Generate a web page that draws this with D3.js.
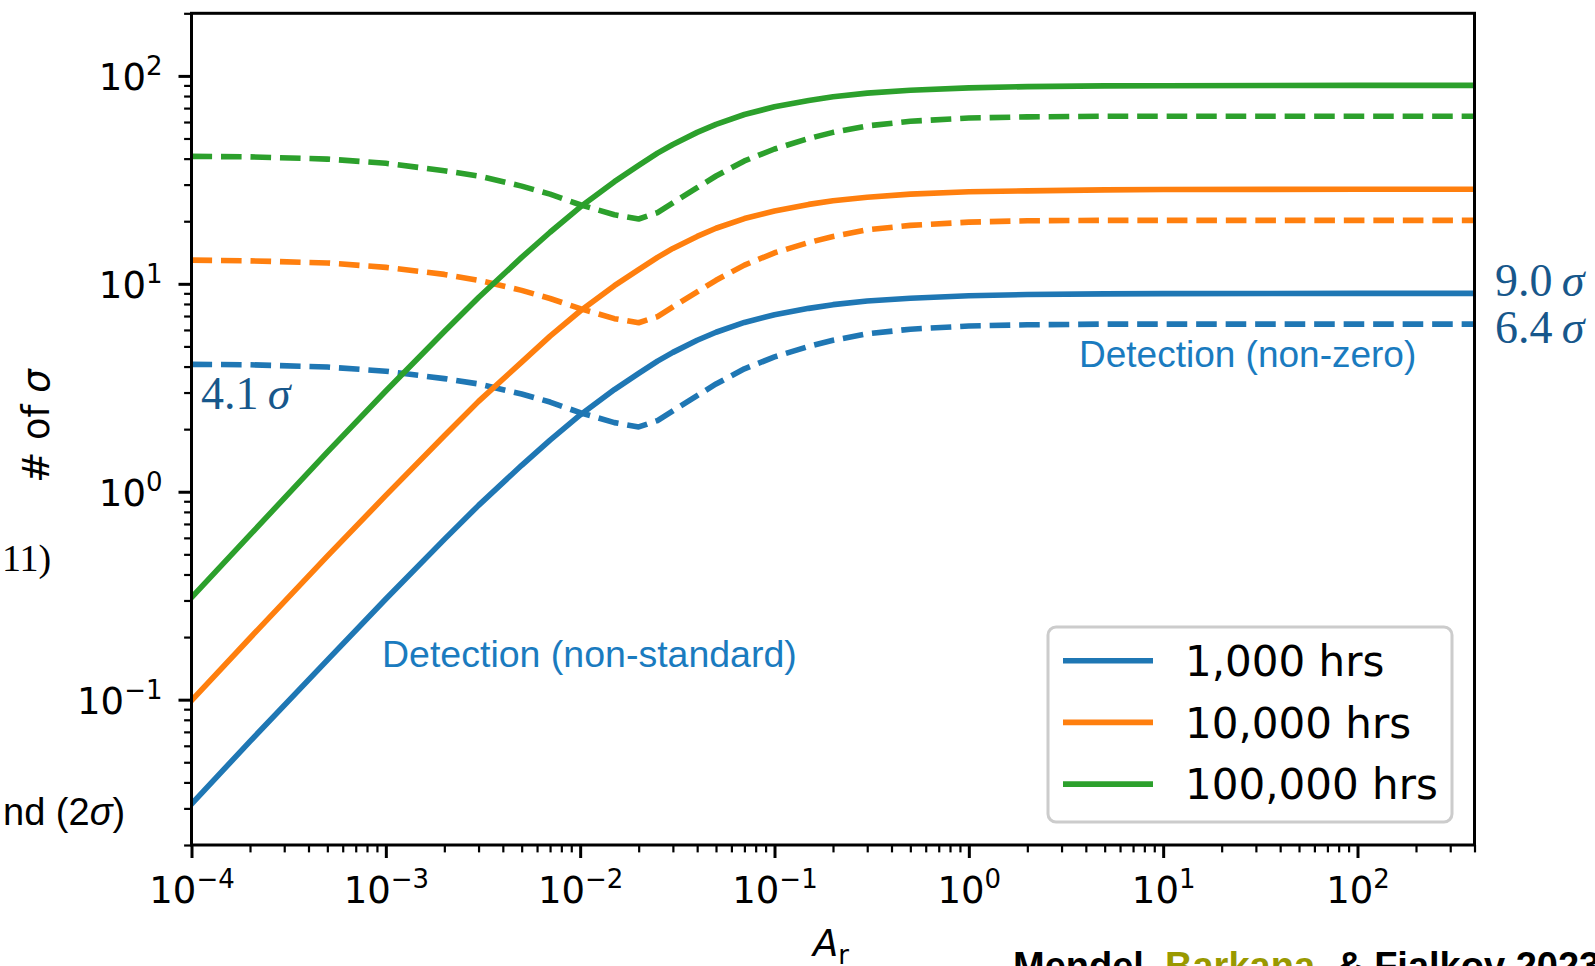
<!DOCTYPE html>
<html><head><meta charset="utf-8">
<script src="https://cdn.jsdelivr.net/npm/d3@7"></script>
<style>body{margin:0;background:#fff;} svg{display:block;}</style>
</head><body>
<svg id="chart" width="1595" height="966"></svg>
<script>
// ---- data ----
const arValues = [1e-4, 2e-4, 5e-4, 1e-3, 2e-3, 3e-3, 5e-3, 7e-3, 1e-2, 1.5e-2, 2e-2, 2.5e-2, 3e-2, 4e-2, 5e-2, 7e-2, 1e-1, 1.5e-1, 2e-1, 3e-1, 5e-1, 1, 2, 5, 10, 100, 400];
const seriesNames = ["1,000 hrs", "10,000 hrs", "100,000 hrs"];
const seriesColors = ["#1f77b4", "#ff7f0e", "#2ca02c"];
const solid1k   = [0.0315, 0.063, 0.155, 0.305, 0.59, 0.86, 1.34, 1.77, 2.34, 3.10, 3.71, 4.25, 4.68, 5.35, 5.85, 6.52, 7.10, 7.62, 7.94, 8.26, 8.53, 8.76, 8.88, 8.95, 8.97, 9.0, 9.0];
const solid10k  = [0.099, 0.198, 0.49, 0.96, 1.86, 2.72, 4.2, 5.6, 7.4, 9.8, 11.7, 13.4, 14.8, 16.9, 18.5, 20.6, 22.4, 24.1, 25.1, 26.1, 27.0, 27.7, 28.0, 28.3, 28.4, 28.5, 28.5];
const solid100k = [0.31, 0.62, 1.55, 3.05, 5.9, 8.6, 13.4, 17.7, 23.4, 31.0, 37.1, 42.5, 46.8, 53.5, 58.5, 65.2, 71.0, 76.2, 79.4, 82.6, 85.3, 87.6, 88.8, 89.5, 89.7, 90, 90];
const dashed1k   = [4.1, 4.08, 3.98, 3.8, 3.5, 3.3, 2.95, 2.7, 2.4, 2.15, 2.05, 2.2, 2.45, 2.9, 3.3, 3.9, 4.45, 5.0, 5.35, 5.75, 6.05, 6.27, 6.35, 6.4, 6.4, 6.4, 6.4];
const dashed10k  = [13.0, 12.9, 12.6, 12.0, 11.1, 10.4, 9.3, 8.5, 7.6, 6.8, 6.5, 6.95, 7.75, 9.15, 10.4, 12.3, 14.1, 15.8, 16.9, 18.2, 19.1, 19.8, 20.1, 20.2, 20.2, 20.2, 20.2];
const dashed100k = [41, 40.8, 39.8, 38, 35, 33, 29.5, 27, 24, 21.5, 20.5, 22.0, 24.5, 29, 33, 39, 44.5, 50, 53.5, 57.5, 60.5, 62.7, 63.5, 64, 64, 64, 64];
const xTickExps = [-4, -3, -2, -1, 0, 1, 2];
const yTickExps = [-1, 0, 1, 2];
const xDomain = [1e-4, 400];
const yDomain = [0.02, 200];

// ---- layout ----
const L = 191.5, R = 1474.5, T = 13.3, B = 845;
const svg = d3.select("#chart");
const x = d3.scaleLog().domain(xDomain).range([L, R]);
const y = d3.scaleLog().domain(yDomain).range([B, T]);

svg.append("defs").append("clipPath").attr("id", "plotclip")
  .append("rect").attr("x", L).attr("y", T).attr("width", R - L).attr("height", B - T);

// minor tick values
const xMinor = [], yMinor = [];
for (let d = -4; d <= 2; d++) for (let k = 2; k <= 9; k++) { const v = k * Math.pow(10, d); if (v <= xDomain[1] * 1.0001) xMinor.push(v); }
for (let d = -2; d <= 2; d++) for (let k = 2; k <= 9; k++) { const v = k * Math.pow(10, d); if (v >= yDomain[0] * 0.9999 && v <= yDomain[1] * 1.0001) yMinor.push(v); }
const xMajor = xTickExps.map(e => Math.pow(10, e));
const yMajor = yTickExps.map(e => Math.pow(10, e));

function styleAxis(g, w) {
  g.select(".domain").remove();
  g.selectAll(".tick line").attr("stroke", "#000").attr("stroke-width", w);
  g.selectAll(".tick text").remove();
}
// x axis
const gxm = svg.append("g").attr("transform", `translate(0,${B})`)
  .call(d3.axisBottom(x).tickValues(xMinor).tickSize(7.4).tickFormat(""));
styleAxis(gxm, 2.2);
const gx = svg.append("g").attr("transform", `translate(0,${B})`)
  .call(d3.axisBottom(x).tickValues(xMajor).tickSize(13).tickFormat(""));
styleAxis(gx, 3);
gx.selectAll(".tick").each(function (d) {
  const e = Math.round(Math.log10(d));
  const t = d3.select(this).append("text").attr("y", 58).attr("text-anchor", "middle")
    .attr("font-family", "DejaVu Sans").attr("font-size", 37).attr("fill", "#000");
  t.append("tspan").text("10");
  t.append("tspan").attr("font-size", 26).attr("dy", -15).text(e < 0 ? "\u2212" + (-e) : String(e));
});
// y axis
const gym = svg.append("g").attr("transform", `translate(${L},0)`)
  .call(d3.axisLeft(y).tickValues(yMinor).tickSize(7.4).tickFormat(""));
styleAxis(gym, 2.2);
const gy = svg.append("g").attr("transform", `translate(${L},0)`)
  .call(d3.axisLeft(y).tickValues(yMajor).tickSize(13).tickFormat(""));
styleAxis(gy, 3);
gy.selectAll(".tick").each(function (d) {
  const e = Math.round(Math.log10(d));
  const t = d3.select(this).append("text").attr("x", -29).attr("y", 14).attr("text-anchor", "end")
    .attr("font-family", "DejaVu Sans").attr("font-size", 37).attr("fill", "#000");
  t.append("tspan").text("10");
  t.append("tspan").attr("font-size", 26).attr("dy", -15).text(e < 0 ? "\u2212" + (-e) : String(e));
});

// lines
const line = d3.line().x(d => x(d[0])).y(d => y(d[1]));
const solids = [solid1k, solid10k, solid100k];
const dashes = [dashed1k, dashed10k, dashed100k];
const plot = svg.append("g").attr("clip-path", "url(#plotclip)");
solids.forEach((s, i) => {
  plot.append("path").datum(arValues.map((a, j) => [a, s[j]])).attr("d", line)
    .attr("fill", "none").attr("stroke", seriesColors[i]).attr("stroke-width", 5.6)
    .attr("stroke-linecap", "square").attr("stroke-linejoin", "round");
  plot.append("path").datum(arValues.map((a, j) => [a, dashes[i][j]])).attr("d", line)
    .attr("fill", "none").attr("stroke", seriesColors[i]).attr("stroke-width", 5.6)
    .attr("stroke-dasharray", "20.6,8.9").attr("stroke-linecap", "butt").attr("stroke-linejoin", "round");
});

// frame
svg.append("rect").attr("x", L).attr("y", T).attr("width", R - L).attr("height", B - T)
  .attr("fill", "none").attr("stroke", "#000").attr("stroke-width", 3);

// axis labels
const yl = svg.append("text").attr("transform", `translate(49,426) rotate(-90)`).attr("text-anchor", "middle")
  .attr("font-family", "DejaVu Sans").attr("font-size", 37).attr("fill", "#000");
yl.append("tspan").text("# of ");
yl.append("tspan").attr("font-style", "italic").text("\u03C3");
const xl = svg.append("text").attr("x", 831).attr("y", 956).attr("text-anchor", "middle")
  .attr("font-family", "DejaVu Sans").attr("font-size", 37).attr("fill", "#000");
xl.append("tspan").attr("font-style", "italic").text("A");
xl.append("tspan").attr("font-size", 26).attr("dy", 8).text("r");

// legend
const lg = svg.append("g");
lg.append("rect").attr("x", 1048).attr("y", 627).attr("width", 404).attr("height", 195).attr("rx", 8)
  .attr("fill", "#fff").attr("fill-opacity", 0.8).attr("stroke", "#cccccc").attr("stroke-width", 3);
seriesNames.forEach((n, i) => {
  const cy = 660.7 + i * 61.7;
  lg.append("line").attr("x1", 1063).attr("x2", 1153).attr("y1", cy).attr("y2", cy)
    .attr("stroke", seriesColors[i]).attr("stroke-width", 5.6);
  lg.append("text").attr("x", 1185).attr("y", 676 + i * 61.7).attr("font-family", "DejaVu Sans")
    .attr("font-size", 42).attr("fill", "#000").text(n);
});

// annotations
const annColor = "#17578b";
function sigmaLabel(xp, yp, num) {
  const t = svg.append("text").attr("x", xp).attr("y", yp).attr("font-family", "Liberation Serif")
    .attr("font-size", 46).attr("fill", annColor);
  t.append("tspan").text(num + "\u2009");
  t.append("tspan").attr("font-style", "italic").text("\u03C3");
}
sigmaLabel(1495, 296, "9.0");
sigmaLabel(1495, 343, "6.4");
sigmaLabel(201, 409, "4.1");

const detColor = "#1a7bbf";
svg.append("text").attr("x", 1079).attr("y", 367).attr("font-family", "Liberation Sans").attr("font-size", 37)
  .attr("fill", detColor).text("Detection (non-zero)");
svg.append("text").attr("x", 382).attr("y", 667).attr("font-family", "Liberation Sans").attr("font-size", 37.5)
  .attr("fill", detColor).text("Detection (non-standard)");

// background fragments
svg.append("text").attr("x", 2).attr("y", 571).attr("font-family", "Liberation Serif").attr("font-size", 38)
  .attr("fill", "#000").text("11)");
const nd = svg.append("text").attr("x", 3).attr("y", 825).attr("font-family", "Liberation Sans").attr("font-size", 38).attr("fill", "#000");
nd.append("tspan").text("nd (2");
nd.append("tspan").attr("font-style", "italic").text("\u03C3");
nd.append("tspan").text(")");

const cit = svg.append("text").attr("x", 1013).attr("y", 979).attr("font-family", "Liberation Sans")
  .attr("font-weight", "bold").attr("font-size", 38).attr("fill", "#000");
cit.append("tspan").text("Mendel, ");
cit.append("tspan").attr("fill", "#999900").text("Barkana");
cit.append("tspan").text(", & Fialkov 2023");
</script>
</body></html>
